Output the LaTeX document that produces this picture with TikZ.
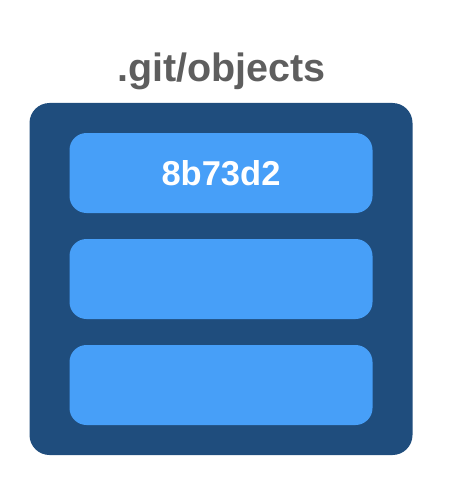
\documentclass[tikz,border=0pt]{standalone}
\usepackage{fontspec}
\setmainfont{Liberation Sans}
\definecolor{outerblue}{HTML}{1F4D7D}
\definecolor{innerblue}{HTML}{479FF8}
\definecolor{titlegray}{HTML}{5E5E5E}
\begin{document}
\begin{tikzpicture}[x=1pt,y=-1pt,
  container/.style={fill=outerblue, rounded corners=20pt, draw=none},
  objbox/.style={fill=innerblue, rounded corners=17pt, draw=none},
  title/.style={text=titlegray, font=\fontsize{39.5}{44}\selectfont\bfseries, anchor=base, inner sep=0pt},
  hashlabel/.style={text=white, font=\fontsize{34.5}{40}\selectfont\bfseries, anchor=base, inner sep=0pt}]
\useasboundingbox (0,0) rectangle (450,500);
\node[title] (t) at (221.5,82) {.git/objects};
\path[container] (29.5,103) rectangle (412.5,455);
\path[objbox] (69.5,133) rectangle (372.5,213);
\path[objbox] (69.5,239) rectangle (372.5,319);
\path[objbox] (69.5,345) rectangle (372.5,425);
\node[hashlabel] (h) at (221,185) {8b73d2};
\end{tikzpicture}
\end{document}
